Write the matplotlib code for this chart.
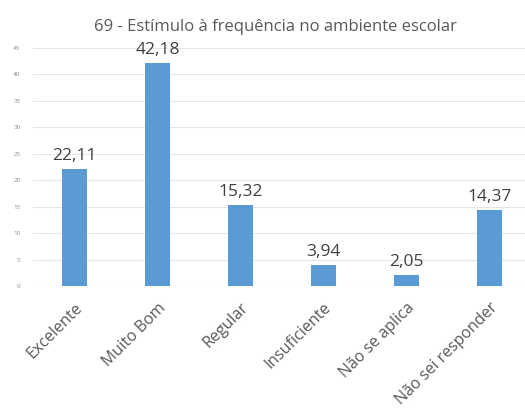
import matplotlib
matplotlib.use("Agg")
import matplotlib.pyplot as plt

categories = ["Excelente", "Muito Bom", "Regular", "Insuficiente", "Não se aplica", "Não sei responder"]
values = [22.11, 42.18, 15.32, 3.94, 2.05, 14.37]
value_labels = ["22,11", "42,18", "15,32", "3,94", "2,05", "14,37"]
yticks = [0, 5, 10, 15, 20, 25, 30, 35, 40, 45]

plt.rcParams['font.family'] = ['Open Sans', 'DejaVu Sans']

fig = plt.figure(figsize=(5.25, 4.15), dpi=100)
ax = fig.add_axes([33/525, 1-286/415, (531-33)/525, (286-48)/415])

x = range(len(categories))
ax.bar(x, values, width=0.3, color="#5B9BD5", zorder=3)
for xi, v, lab in zip(x, values, value_labels):
    ax.text(xi, v + 0.9, lab, ha="center", va="bottom", fontsize=12.5, color="#404040")

ax.set_xlim(-0.5, len(categories) - 0.5)
ax.set_ylim(0, 45)
ax.set_yticks(yticks)
ax.set_yticklabels([str(t) for t in yticks], fontsize=4.5, color="#8c8c8c")
ax.set_xticks(list(x))
ax.set_xticklabels(categories, rotation=45, ha="right", rotation_mode="anchor",
                   fontsize=11.5, color="#595959")
ax.tick_params(axis="both", length=0)
ax.tick_params(axis="y", pad=9)
ax.tick_params(axis="x", pad=10)
ax.grid(axis="y", color="#e6e6e6", linewidth=0.8, zorder=0)
for s in ax.spines.values():
    s.set_visible(False)
ax.axhline(0, color="#d9d9d9", linewidth=0.8, zorder=2)

fig.text(275/525, 1-27/415, "69 - Estímulo à frequência no ambiente escolar",
         ha="center", va="center", fontsize=12, color="#595959")

fig.savefig("out.png", dpi=100)
